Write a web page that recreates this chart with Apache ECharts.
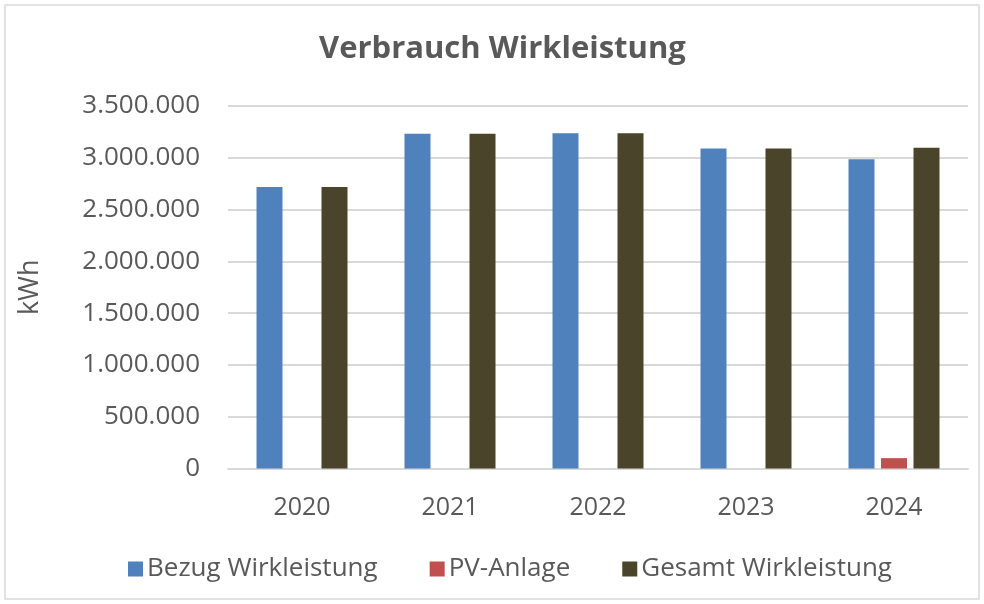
<!DOCTYPE html>
<html>
<head>
<meta charset="utf-8">
<script src="https://cdn.jsdelivr.net/npm/echarts@6/dist/echarts.min.js"></script>
<style>
  html, body { margin: 0; padding: 0; background: #fff; }
  #chart { width: 984px; height: 604px; }
</style>
</head>
<body>
<div id="chart"></div>
<script>
// Daten
var jahre = ['2020', '2021', '2022', '2023', '2024'];
var bezug = [2719000, 3232000, 3238000, 3090000, 2987000];
var pvAnlage = [0, 0, 0, 0, 100000];
var gesamt = [2719000, 3232000, 3238000, 3090000, 3097000];
var yTicks = [0, 500000, 1000000, 1500000, 2000000, 2500000, 3000000, 3500000];

var font = '"Open Sans", "Liberation Sans", sans-serif';
var grau = '#595959';

// Tausenderpunkte wie in Excel
function fmt(v) {
    return String(v).replace(/\B(?=(\d{3})+(?!\d))/g, '.');
}

var chart = echarts.init(document.getElementById('chart'));

var option = {
    backgroundColor: '#fff',
    animation: false,
    textStyle: { fontFamily: font },
    title: {
        text: 'Verbrauch Wirkleistung',
        left: 314,
        top: 29,
        textStyle: { fontFamily: font, fontSize: 31, fontWeight: 'bold', color: grau }
    },
    legend: {
        data: ['Bezug Wirkleistung', 'PV-Anlage', 'Gesamt Wirkleistung'],
        left: 123,
        top: 551,
        itemWidth: 15,
        itemHeight: 15,
        itemGap: 52,
        icon: 'rect',
        textStyle: { fontFamily: font, fontSize: 26, color: grau, padding: [0, 0, 0, -1] }
    },
    grid: { left: 228, right: 16, top: 106, bottom: 135.5 },
    graphic: [{
        type: 'rect',
        shape: { x: 5, y: 5, width: 974, height: 594 },
        style: { fill: 'none', stroke: '#d9d9d9', lineWidth: 1.5 },
        silent: true
    }],
    xAxis: {
        type: 'category',
        data: jahre,
        axisLine: { lineStyle: { color: '#d9d9d9', width: 2 } },
        axisTick: { show: false },
        axisLabel: { fontFamily: font, fontSize: 25, color: grau, margin: 27 }
    },
    yAxis: {
        type: 'value',
        min: yTicks[0],
        max: yTicks[yTicks.length - 1],
        interval: yTicks[1] - yTicks[0],
        name: 'kWh',
        nameLocation: 'middle',
        nameGap: 184,
        nameRotate: 90,
        nameTextStyle: { fontFamily: font, fontSize: 27, color: grau },
        axisLine: { show: false },
        axisTick: { show: false },
        splitLine: { lineStyle: { color: '#d9d9d9', width: 2 } },
        axisLabel: {
            fontFamily: font, fontSize: 26, color: grau, margin: 28,
            formatter: function (v) { return fmt(v); }
        }
    },
    series: [
        {
            name: 'Bezug Wirkleistung',
            type: 'bar',
            data: bezug,
            barWidth: 26,
            barGap: '25%',
            itemStyle: { color: '#4F81BD' }
        },
        {
            name: 'PV-Anlage',
            type: 'bar',
            data: pvAnlage,
            barWidth: 26,
            barGap: '25%',
            itemStyle: { color: '#C0504D' }
        },
        {
            name: 'Gesamt Wirkleistung',
            type: 'bar',
            data: gesamt,
            barWidth: 26,
            barGap: '25%',
            itemStyle: { color: '#4A452A' }
        }
    ]
};

chart.setOption(option);
</script>
</body>
</html>
